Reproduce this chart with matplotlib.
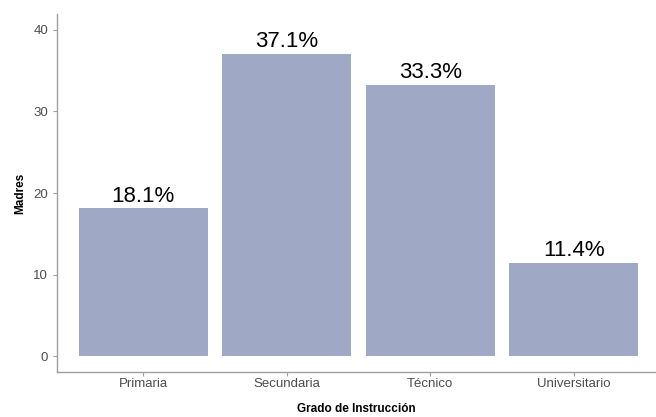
import matplotlib
matplotlib.use("Agg")
import matplotlib.pyplot as plt

# datos del grafico
categorias = ["Primaria", "Secundaria", "Técnico", "Universitario"]
porcentajes = [18.1, 37.1, 33.3, 11.4]
etiquetas = ["18.1%", "37.1%", "33.3%", "11.4%"]
ticks_y = [0, 10, 20, 30, 40]

plt.rcParams['font.family'] = ['Liberation Sans', 'DejaVu Sans']

fig = plt.figure(figsize=(6.56, 4.17), dpi=100)
ax = fig.add_axes([57 / 656, 45 / 417, 1 - 57 / 656, (372 - 14) / 417])

posiciones = range(1, len(categorias) + 1)
ax.bar(posiciones, porcentajes, width=0.9, color='#9FA8C4', linewidth=0)

# etiquetas de porcentaje sobre cada barra
for x, v, t in zip(posiciones, porcentajes, etiquetas):
    ax.text(x, v + 0.2, t, ha='center', va='bottom', fontsize=16, color='black')

ax.set_xlim(0.4, 4.574)
ax.set_ylim(-1.96, 41.96)
ax.set_xticks(list(posiciones))
ax.set_xticklabels(categorias)
ax.set_yticks(ticks_y)

for lado in ['top', 'right']:
    ax.spines[lado].set_visible(False)
for lado in ['left', 'bottom']:
    ax.spines[lado].set_color('#A0A0A0')
    ax.spines[lado].set_linewidth(1.0)

ax.tick_params(axis='both', colors='#4D4D4D', labelsize=9.5, length=3, width=0.8)
ax.tick_params(axis='both', color='#A0A0A0')
ax.tick_params(axis='x', pad=1.5)

ax.set_xlabel('Grado de Instrucción', fontsize=8.5, fontweight='bold', labelpad=9)
ax.set_ylabel('Madres', fontsize=8.5, fontweight='bold', labelpad=5)

fig.savefig('out.png', dpi=100)
